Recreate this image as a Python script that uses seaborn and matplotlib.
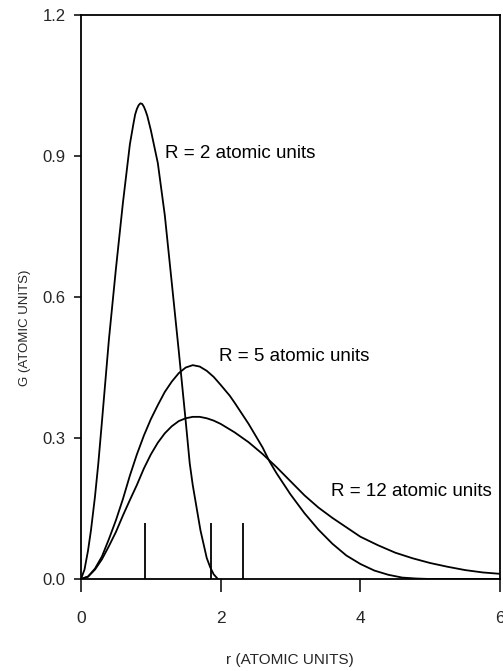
import numpy as np
import pandas as pd
import matplotlib
matplotlib.use("Agg")
import matplotlib.pyplot as plt
import seaborn as sns

# ---- data ----
r_R2 = [0.0, 0.05, 0.1, 0.143, 0.2, 0.248, 0.3, 0.4, 0.5, 0.6, 0.7, 0.75, 0.775, 0.8, 0.825, 0.85,
        0.875, 0.9, 0.925, 0.95, 1.0, 1.1, 1.2, 1.3, 1.4, 1.5, 1.557, 1.6, 1.71, 1.8, 1.85, 1.9, 1.96]
G_R2 = [0.0, 0.02, 0.06, 0.104, 0.175, 0.246, 0.335, 0.51, 0.66, 0.80, 0.925, 0.968, 0.988, 1.0, 1.008, 1.012,
        1.011, 1.005, 0.996, 0.985, 0.955, 0.885, 0.774, 0.63, 0.485, 0.335, 0.246, 0.20, 0.104, 0.045, 0.025, 0.01, 0.0]

r_R5 = [0.0, 0.1, 0.2, 0.3, 0.4, 0.5, 0.6, 0.7, 0.8, 0.9, 1.0, 1.1, 1.2, 1.3, 1.4, 1.5, 1.6, 1.7,
        1.8, 1.9, 2.0, 2.13, 2.2, 2.4, 2.6, 2.7, 2.8, 3.0, 3.2, 3.4, 3.6, 3.8, 4.0, 4.2, 4.4, 4.6,
        4.8, 5.0, 6.0]
G_R5 = [0.0, 0.005, 0.022, 0.048, 0.085, 0.125, 0.17, 0.22, 0.265, 0.305, 0.34, 0.37, 0.398, 0.42,
        0.438, 0.45, 0.455, 0.452, 0.443, 0.43, 0.413, 0.39, 0.375, 0.33, 0.28, 0.25, 0.225, 0.18,
        0.14, 0.105, 0.075, 0.05, 0.032, 0.018, 0.009, 0.003, 0.001, 0.0, 0.0]

r_R12 = [0.0, 0.1, 0.2, 0.3, 0.4, 0.5, 0.6, 0.7, 0.8, 0.9, 1.0, 1.1, 1.2, 1.3, 1.4, 1.5, 1.6, 1.7,
         1.8, 1.9, 2.0, 2.2, 2.4, 2.6, 2.7, 2.8, 3.0, 3.2, 3.4, 3.6, 3.8, 4.0, 4.25, 4.5, 4.75,
         5.0, 5.25, 5.5, 5.75, 6.0]
G_R12 = [0.0, 0.005, 0.02, 0.042, 0.07, 0.1, 0.135, 0.168, 0.2, 0.235, 0.265, 0.29, 0.31, 0.325,
         0.336, 0.342, 0.345, 0.345, 0.342, 0.337, 0.33, 0.312, 0.291, 0.266, 0.252, 0.238, 0.208,
         0.178, 0.152, 0.13, 0.11, 0.09, 0.072, 0.056, 0.044, 0.034, 0.026, 0.019, 0.014, 0.011]

marker_r = [0.914, 1.855, 2.32]
marker_h = [0.12, 0.12, 0.12]

labels = ["R = 2 atomic units", "R = 5 atomic units", "R = 12 atomic units"]
label_pos = [(1.2, 0.905), (1.98, 0.473), (3.58, 0.186)]

x_ticks = [0, 2, 4, 6]
x_ticklabels = ["0", "2", "4", "6"]
y_ticks = [0.0, 0.3, 0.6, 0.9, 1.2]
y_ticklabels = ["0.0", "0.3", "0.6", "0.9", "1.2"]

xlabel = "r (ATOMIC UNITS)"
ylabel = "G (ATOMIC UNITS)"

# ---- style ----
sns.set_theme(style="ticks")
plt.rcParams["font.family"] = ["Liberation Sans", "DejaVu Sans"]
fs = 13.5

fig = plt.figure(figsize=(5.03, 6.71), dpi=100)
ax = fig.add_axes([81 / 503, 1 - 579 / 671, (500 - 81) / 503, (579 - 15) / 671])

for rr, gg in [(r_R2, G_R2), (r_R5, G_R5), (r_R12, G_R12)]:
    df = pd.DataFrame({"r": rr, "G": gg})
    sns.lineplot(data=df, x="r", y="G", ax=ax, color="black", linewidth=1.3,
                 estimator=None, sort=False)

ax.vlines(marker_r, 0, marker_h, color="black", linewidth=1.3)

for txt, (tx, ty) in zip(labels, label_pos):
    ax.text(tx, ty, txt, fontsize=fs, color="black", ha="left", va="center")

ax.set_xlim(0, 6)
ax.set_ylim(0, 1.2)
ax.set_xticks(x_ticks)
ax.set_xticklabels(x_ticklabels, fontsize=12.5)
ax.set_yticks(y_ticks)
ax.set_yticklabels(y_ticklabels, fontsize=12)
ax.tick_params(axis="x", direction="out", length=9, width=1.3, pad=14, top=False)
ax.tick_params(axis="y", direction="out", length=5, width=1.3, pad=6, right=False)
for s in ax.spines.values():
    s.set_visible(True)
    s.set_linewidth(1.3)
    s.set_color("black")

ax.set_xlabel(xlabel, fontsize=11)
ax.set_ylabel(ylabel, fontsize=9.5)
ax.xaxis.set_label_coords((290 - 81) / (500 - 81), -(660 - 579) / (579 - 15))
ax.yaxis.set_label_coords(-(81 - 25) / (500 - 81), (579 - 328) / (579 - 15))
ax.xaxis.label.set_va("center")
ax.yaxis.label.set_va("center")

fig.savefig("out.png", dpi=100)
